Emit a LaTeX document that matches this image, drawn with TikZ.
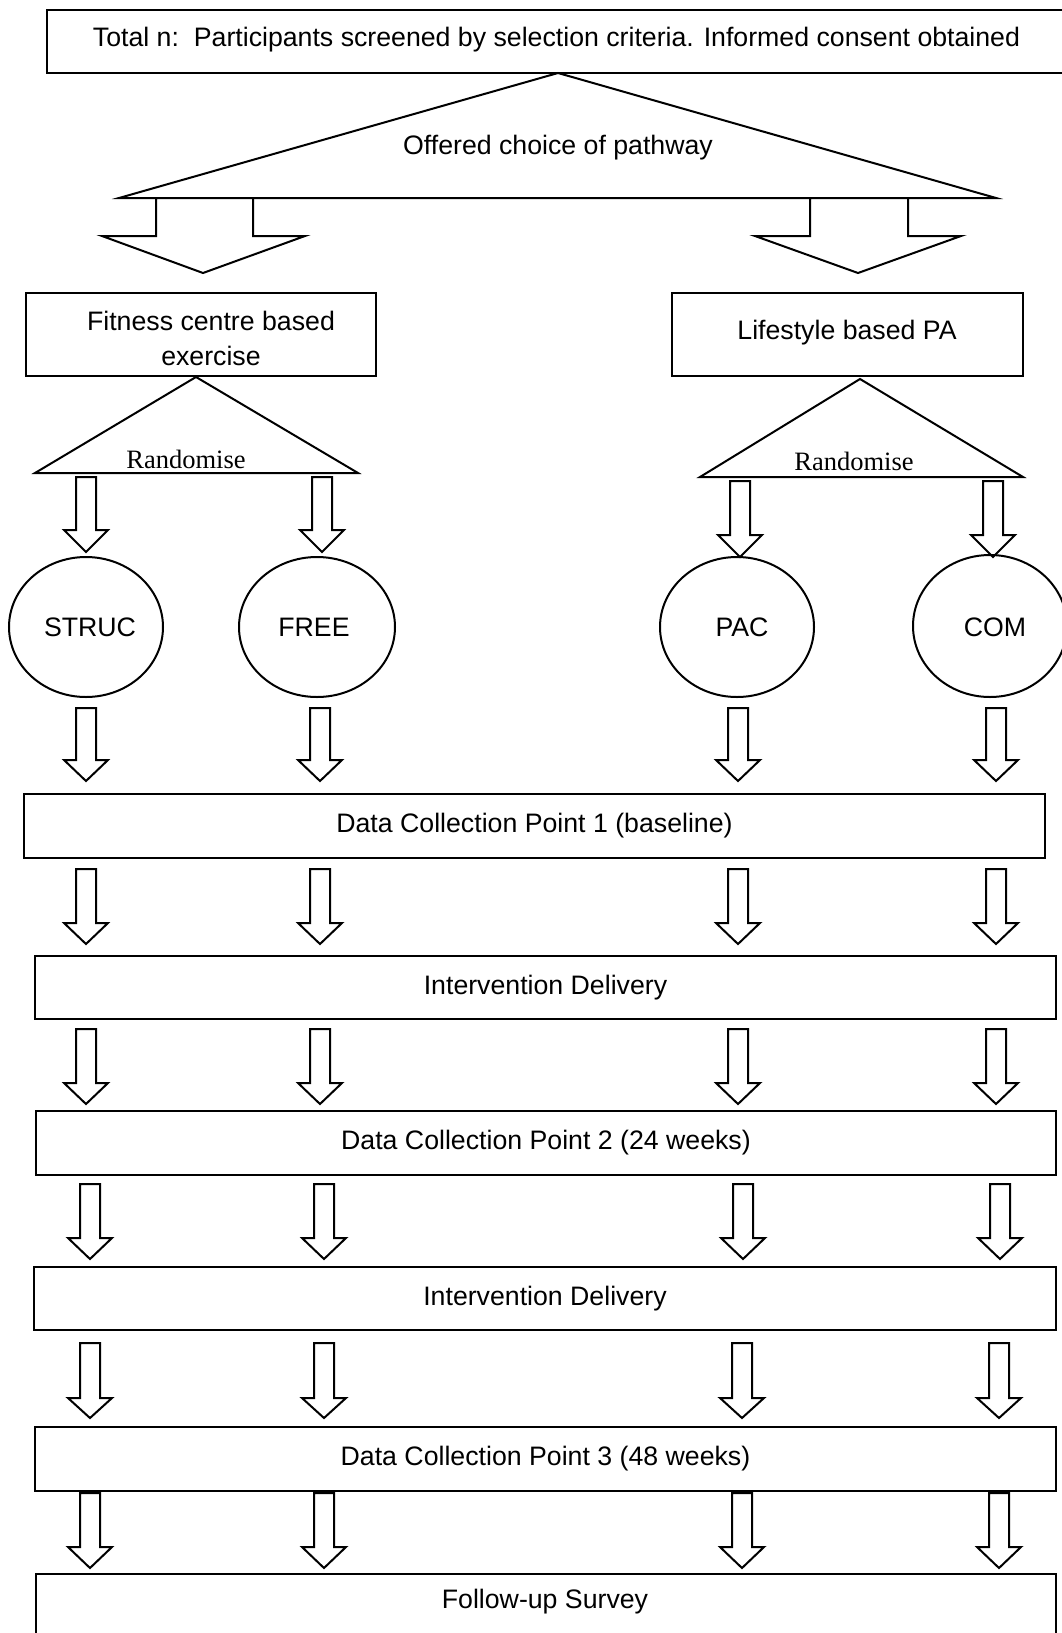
\documentclass[tikz,border=0pt]{standalone}
\usepackage{fontspec}
\setmainfont{Liberation Sans}
\newfontfamily\serifrand{Liberation Serif}
\tikzset{
  box/.style={draw, line width=2.6pt, inner sep=0pt, outer sep=0pt, font=\fontsize{26.7}{31}\selectfont},
  txt/.style={inner sep=0pt, font=\fontsize{26.7}{35}\selectfont, align=center},
  rtxt/.style={inner sep=0pt, font=\serifrand\fontsize{26.5}{31}\selectfont},
  oval/.style={draw, ellipse, line width=2pt, inner sep=0pt},
  tri/.style={line width=2pt, line join=miter},
  arr/.style={line width=2pt, line join=miter, fill=white}
}
\newcommand{\barrow}[4]{% cx, top, head base, tip
  \draw[arr] ({#1-10},#2) -- ({#1+10},#2) -- ({#1+10},#3) -- ({#1+22},#3) -- (#1,#4) -- ({#1-22},#3) -- ({#1-10},#3) -- cycle;}
\usetikzlibrary{shapes.geometric}
\begin{document}
\begin{tikzpicture}[x=1pt,y=-1pt]
\useasboundingbox (0,0) rectangle (1062,1633);
\fill[white] (0,0) rectangle (1062,1633);

% top box
\node[box, minimum width=1019pt, minimum height=63pt] (top) at (556.5,41.5) {};
\node[txt] (topt) at (556.5,39.5) {Total n:\ \ Participants screened by selection criteria. Informed consent obtained};

% big triangle
\coordinate (apex) at (558,73);
\draw[tri] (apex) -- (996,198) -- (119,198) -- cycle;
\node[txt] (choice) at (558,148) {Offered choice of pathway};

% big block arrows
\draw[arr] (156,198) -- (253,198) -- (253,236) -- (305,236) -- (203,273) -- (102,236) -- (156,236) -- cycle;
\draw[arr] (810,198) -- (908,198) -- (908,236) -- (961,236) -- (858,273) -- (755,236) -- (810,236) -- cycle;

% pathway boxes
\node[box, minimum width=350pt, minimum height=83pt] (fit) at (201,334.5) {};
\node[txt] (fitt) at (211,338.5) {Fitness centre based\\exercise};
\node[box, minimum width=351pt, minimum height=83pt] (life) at (847.5,334.5) {};
\node[txt] (lifet) at (847,333) {Lifestyle based PA};

% randomise triangles
\draw[tri] (196,377) -- (358,473) -- (35,473) -- cycle;
\node[rtxt] (rand1) at (186,459) {Randomise};
\draw[tri] (860,379) -- (1023,477) -- (700,477) -- cycle;
\node[rtxt] (rand2) at (854,461) {Randomise};

% arrows to ellipses
\barrow{86}{477}{530}{552}
\barrow{322}{477}{530}{552}
\barrow{740}{481}{535}{557}
\barrow{993}{481}{535}{557}

% ellipses
\node[oval, minimum width=154pt, minimum height=140pt] (struc) at (86,627) {};
\node[txt] (struct) at (90,627) {STRUC};
\node[oval, minimum width=156pt, minimum height=140pt] (free) at (317,627) {};
\node[txt] (freet) at (314,627) {FREE};
\node[oval, minimum width=154pt, minimum height=140pt] (pac) at (737,627) {};
\node[txt] (pact) at (742,627) {PAC};
\node[oval, minimum width=154pt, minimum height=142pt] (com) at (990,626) {};
\node[txt] (comt) at (995,627) {COM};

% arrows to DC1
\barrow{86}{708}{760}{781}
\barrow{320}{708}{760}{781}
\barrow{738}{708}{760}{781}
\barrow{996}{708}{760}{781}

% stages
\node[box, minimum width=1021pt, minimum height=64pt] (dc1) at (534.5,826) {Data Collection Point 1 (baseline)};

\barrow{86}{869}{923}{944}
\barrow{320}{869}{923}{944}
\barrow{738}{869}{923}{944}
\barrow{996}{869}{923}{944}

\node[box, minimum width=1021pt, minimum height=63pt] (id1) at (545.5,987.5) {Intervention Delivery};

\barrow{86}{1029}{1083}{1104}
\barrow{320}{1029}{1083}{1104}
\barrow{738}{1029}{1083}{1104}
\barrow{996}{1029}{1083}{1104}

\node[box, minimum width=1020pt, minimum height=64pt] (dc2) at (546,1143) {Data Collection Point 2 (24 weeks)};

\barrow{90}{1184}{1238}{1259}
\barrow{324}{1184}{1238}{1259}
\barrow{743}{1184}{1238}{1259}
\barrow{1000}{1184}{1238}{1259}

\node[box, minimum width=1022pt, minimum height=63pt] (id2) at (545,1298.5) {Intervention Delivery};

\barrow{90}{1343}{1398}{1418}
\barrow{324}{1343}{1398}{1418}
\barrow{742}{1343}{1398}{1418}
\barrow{999}{1343}{1398}{1418}

\node[box, minimum width=1021pt, minimum height=64pt] (dc3) at (545.5,1459) {Data Collection Point 3 (48 weeks)};

\barrow{90}{1493}{1547}{1568}
\barrow{324}{1493}{1547}{1568}
\barrow{742}{1493}{1547}{1568}
\barrow{999}{1493}{1547}{1568}

\node[box, minimum width=1020pt, minimum height=60pt] (fu) at (546,1604) {};
\node[txt] (fut) at (545,1602) {Follow-up Survey};
\end{tikzpicture}
\end{document}
